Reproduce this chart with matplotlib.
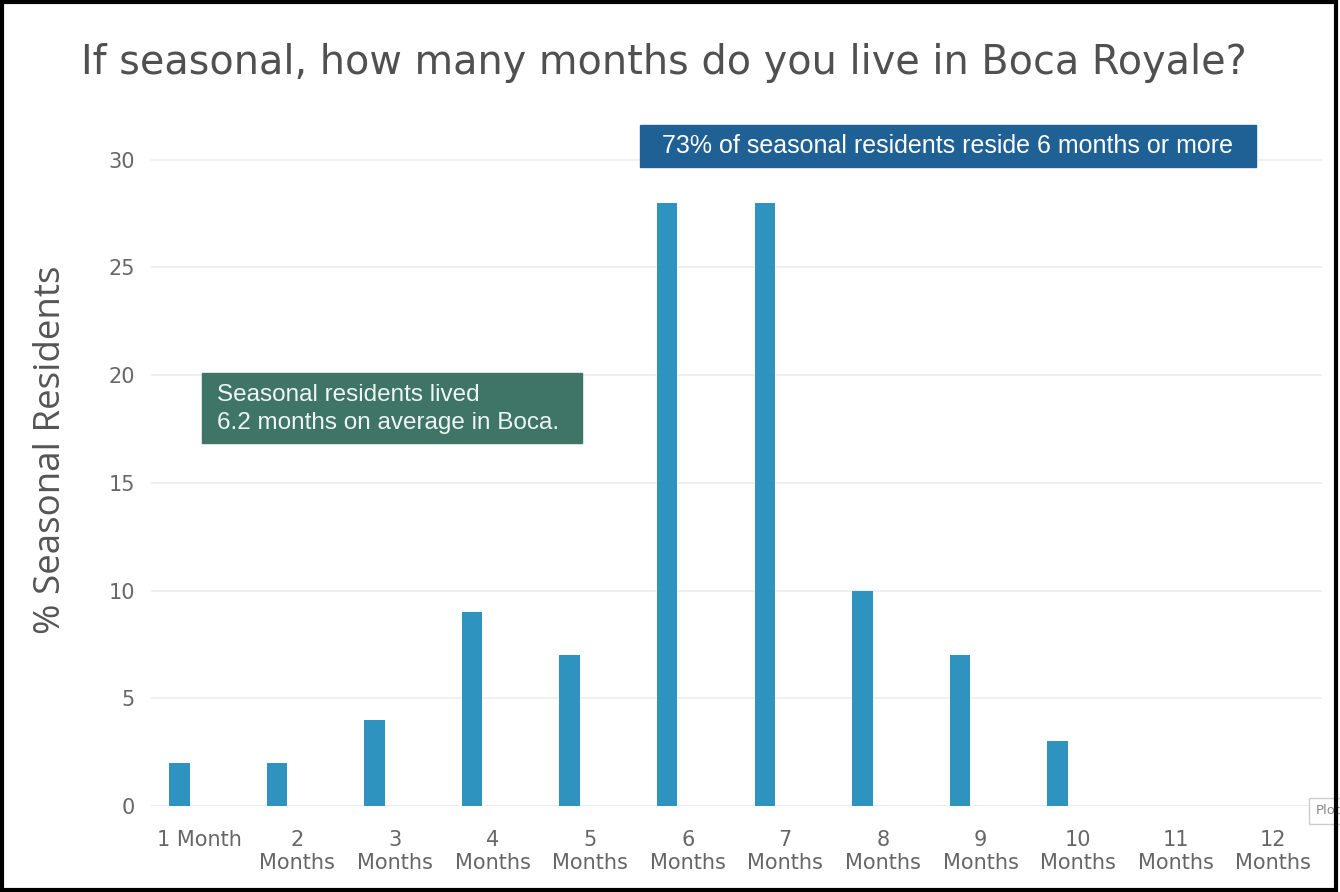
import numpy as np
import matplotlib.pyplot as plt
from matplotlib.patches import Rectangle

# survey answers: share of seasonal residents by months spent in Boca
months = ['1 Month', '2\nMonths', '3\nMonths', '4\nMonths', '5\nMonths', '6\nMonths',
          '7\nMonths', '8\nMonths', '9\nMonths', '10\nMonths', '11\nMonths', '12\nMonths']
share = [2, 2, 4, 9, 7, 28, 28, 10, 7, 3, 0, 0]
yticks = [0, 5, 10, 15, 20, 25, 30]

title = 'If seasonal, how many months do you live in Boca Royale?'
note_top = '73% of seasonal residents reside 6 months or more'
note_avg = 'Seasonal residents lived\n6.2 months on average in Boca.'

W, H = 1340, 892
fig = plt.figure(figsize=(W / 100, H / 100), dpi=100)
fig.patch.set_facecolor('white')

def fx(px):
    return px / W

def fy(py):
    return 1 - py / H

ax = fig.add_axes([fx(151), fy(806), fx(1322) - fx(151), fy(138) - fy(806)])
x = np.arange(len(months))
ax.bar(x - 0.21, share, width=0.21, color='#2f93c0', zorder=3)

ax.set_xlim(-0.5, len(months) - 0.5)
ax.set_ylim(0, 31)
ax.set_yticks(yticks)
ax.set_xticks(x)
ax.set_xticklabels(months, linespacing=1.2)
ax.tick_params(axis='both', length=0, labelsize=15, labelcolor='#666666')
ax.tick_params(axis='y', pad=11.5)
ax.tick_params(axis='x', pad=17)
ax.grid(axis='y', color='#eeeeee', lw=1.2, zorder=0)
ax.axhline(0, color='#dddddd', lw=1.2, zorder=1)
for s in ax.spines.values():
    s.set_visible(False)

fig.text(fx(51), fy(450), '% Seasonal Residents', rotation=90, ha='center', va='center',
         family='Open Sans', fontsize=26.5, color='#555555')

fig.text(fx(664), fy(63), title, ha='center', va='center', fontsize=28.6,
         color='#505050')

# annotation boxes
fig.patches.append(Rectangle((fx(640), fy(167)), fx(1256) - fx(640), fy(125) - fy(167),
                             transform=fig.transFigure, color='#1f6095', zorder=5))
fig.text(fx(948), fy(146), note_top, ha='center', va='center', fontsize=18,
         family='Liberation Sans', color='white', zorder=6)

fig.patches.append(Rectangle((fx(202), fy(443)), fx(582) - fx(202), fy(373) - fy(443),
                             transform=fig.transFigure, color='#3e7567', zorder=5))
fig.text(fx(217), fy(409), note_avg, ha='left', va='center', fontsize=17.5,
         family='Liberation Sans', color='#eef5f2', linespacing=1.35, zorder=6)

# plotly link stub at the right edge
fig.text(fx(1316), fy(811), 'Plot', ha='left', va='center', fontsize=9.5, color='#888888',
         bbox=dict(boxstyle='square,pad=0.5', fc='white', ec='#cccccc', lw=1))

# outer frame
fig.patches.append(Rectangle((fx(2), fy(890)), fx(1336) - fx(2), fy(2) - fy(890),
                             transform=fig.transFigure, fill=False, ec='black', lw=3,
                             zorder=10))

fig.savefig('out.png', dpi=100)
